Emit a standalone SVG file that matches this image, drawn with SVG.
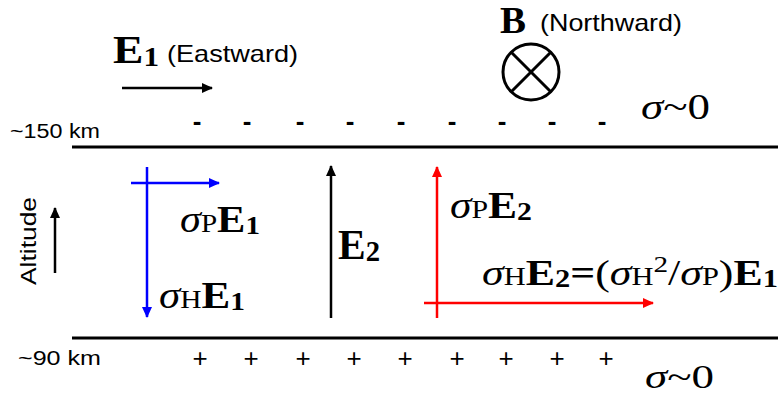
<svg xmlns="http://www.w3.org/2000/svg" width="780" height="396" viewBox="0 0 780 396">
<style>
.sans{font-family:"Liberation Sans",Arial,sans-serif;fill:#000}
.serif{font-family:"Liberation Serif","Times New Roman",serif;fill:#000}
.b{font-weight:bold}
.i{font-style:italic}
.ln{stroke:#000;stroke-width:3;fill:none}
.blk{stroke:#000;stroke-width:2.5;fill:none}
.blu{stroke:#0000ff;stroke-width:2.5;fill:none}
.red{stroke:#ff0000;stroke-width:2.5;fill:none}
.sym{font-family:"Liberation Sans",Arial,sans-serif;font-size:26px;fill:#000;text-anchor:middle}
.dash{font-weight:bold}
</style>
<defs>
<marker id="ak" markerWidth="12" markerHeight="10" refX="10" refY="5" orient="auto" markerUnits="userSpaceOnUse"><path d="M0,0 L11,5 L0,10 Z" fill="#000"/></marker>
<marker id="ab" markerWidth="12" markerHeight="10" refX="10" refY="5" orient="auto" markerUnits="userSpaceOnUse"><path d="M0,0 L11,5 L0,10 Z" fill="#0000ff"/></marker>
<marker id="ar" markerWidth="12" markerHeight="10" refX="10" refY="5" orient="auto" markerUnits="userSpaceOnUse"><path d="M0,0 L11,5 L0,10 Z" fill="#ff0000"/></marker>
</defs>

<g id="layers">
<line class="ln" x1="72" y1="147" x2="778" y2="147"/>
<line class="ln" x1="72" y1="338" x2="778" y2="338"/>
<text class="sans" x="10" y="138" font-size="20" textLength="90" lengthAdjust="spacingAndGlyphs">~150 km</text>
<text class="sans" x="18" y="365" font-size="20" textLength="83" lengthAdjust="spacingAndGlyphs">~90 km</text>
</g>

<g id="charges-top">
<text class="sym dash" x="197" y="130">-</text>
<text class="sym dash" x="247" y="130">-</text>
<text class="sym dash" x="300" y="130">-</text>
<text class="sym dash" x="350" y="130">-</text>
<text class="sym dash" x="401" y="130">-</text>
<text class="sym dash" x="452" y="130">-</text>
<text class="sym dash" x="502" y="130">-</text>
<text class="sym dash" x="552" y="130">-</text>
<text class="sym dash" x="602" y="130">-</text>
</g>
<g id="charges-bottom">
<text class="sym" x="200" y="367">+</text>
<text class="sym" x="251" y="367">+</text>
<text class="sym" x="303" y="367">+</text>
<text class="sym" x="354" y="367">+</text>
<text class="sym" x="405" y="367">+</text>
<text class="sym" x="457" y="367">+</text>
<text class="sym" x="506" y="367">+</text>
<text class="sym" x="557" y="367">+</text>
<text class="sym" x="606" y="367">+</text>
</g>

<g id="sigma-top">
<text class="serif" x="641" y="119" font-size="36" textLength="69" lengthAdjust="spacingAndGlyphs"><tspan class="i">σ</tspan>~0</text>
</g>
<g id="sigma-bottom">
<text class="serif" x="645" y="388" font-size="33" textLength="69" lengthAdjust="spacingAndGlyphs"><tspan class="i">σ</tspan>~0</text>
</g>

<g id="E1-label">
<text class="serif b" x="113" y="63" font-size="41" textLength="46" lengthAdjust="spacingAndGlyphs">E<tspan font-size="28" dy="3">1</tspan></text>
<text class="sans" x="167" y="62" font-size="24" textLength="131" lengthAdjust="spacingAndGlyphs">(Eastward)</text>
</g>

<g id="B-label">
<text class="serif b" x="500" y="33" font-size="37" textLength="26" lengthAdjust="spacingAndGlyphs">B</text>
<text class="sans" x="540" y="31" font-size="24" textLength="142" lengthAdjust="spacingAndGlyphs">(Northward)</text>
<circle cx="531" cy="72" r="28" class="ln"/>
<line class="ln" x1="511" y1="52" x2="551" y2="92"/>
<line class="ln" x1="551" y1="52" x2="511" y2="92"/>
</g>

<g id="altitude">
<text class="sans" transform="translate(36,241) rotate(-90)" font-size="22" text-anchor="middle" textLength="88" lengthAdjust="spacingAndGlyphs">Altitude</text>
</g>

<g id="labels">
<text class="serif" x="180" y="232" font-size="38" textLength="80" lengthAdjust="spacingAndGlyphs"><tspan class="i">σ</tspan><tspan font-size="26">P</tspan><tspan class="b">E</tspan><tspan class="b" font-size="26" dy="2">1</tspan></text>
<text class="serif" x="159" y="308" font-size="38" textLength="86" lengthAdjust="spacingAndGlyphs"><tspan class="i">σ</tspan><tspan font-size="26">H</tspan><tspan class="b">E</tspan><tspan class="b" font-size="26" dy="2">1</tspan></text>
<text class="serif b" x="338" y="259" font-size="42" textLength="42" lengthAdjust="spacingAndGlyphs">E<tspan font-size="29" dy="2">2</tspan></text>
<text class="serif" x="450" y="218" font-size="38" textLength="82" lengthAdjust="spacingAndGlyphs"><tspan class="i">σ</tspan><tspan font-size="26">P</tspan><tspan class="b">E</tspan><tspan class="b" font-size="26" dy="2">2</tspan></text>
<text class="serif" x="482" y="285" font-size="36" textLength="296" lengthAdjust="spacingAndGlyphs"><tspan class="i">σ</tspan><tspan font-size="25">H</tspan><tspan class="b">E</tspan><tspan class="b" font-size="25" dy="2">2</tspan><tspan class="b" dy="-2">=</tspan>(<tspan class="i">σ</tspan><tspan font-size="25">H</tspan><tspan font-size="24" dy="-13">2</tspan><tspan dy="13">/</tspan><tspan class="i">σ</tspan><tspan font-size="25">P</tspan>)<tspan class="b">E</tspan><tspan class="b" font-size="25" dy="2">1</tspan></text>
</g>

<g id="connectors">
<line class="blk" x1="122" y1="88" x2="212" y2="88" marker-end="url(#ak)"/>
<line class="blk" x1="55" y1="273" x2="55" y2="208" marker-end="url(#ak)"/>
<line class="blu" x1="147" y1="167" x2="147" y2="317" marker-end="url(#ab)"/>
<line class="blu" x1="131" y1="183" x2="219" y2="183" marker-end="url(#ab)"/>
<line class="blk" x1="331" y1="318" x2="331" y2="166" marker-end="url(#ak)"/>
<line class="red" x1="437" y1="318" x2="437" y2="167" marker-end="url(#ar)"/>
<line class="red" x1="424" y1="303" x2="653" y2="303" marker-end="url(#ar)"/>
</g>
</svg>
